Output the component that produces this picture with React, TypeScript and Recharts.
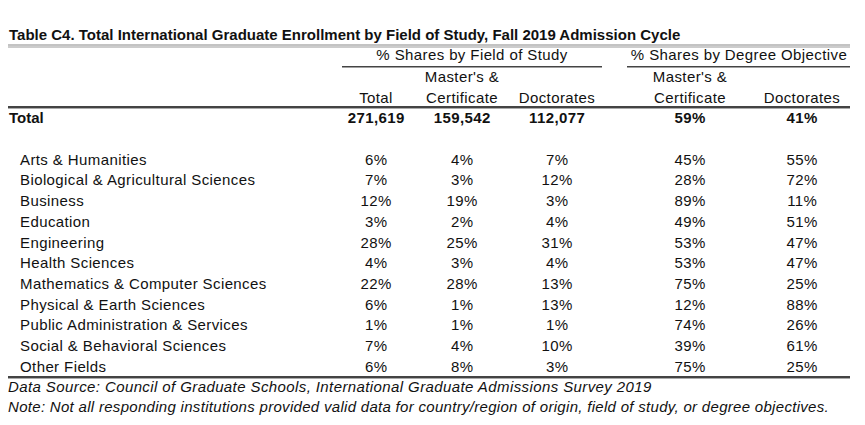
import React from "react";
import { ScatterChart, Scatter, XAxis, YAxis } from "recharts";

// rows of the table
const fields = [
  "Arts & Humanities",
  "Biological & Agricultural Sciences",
  "Business",
  "Education",
  "Engineering",
  "Health Sciences",
  "Mathematics & Computer Sciences",
  "Physical & Earth Sciences",
  "Public Administration & Services",
  "Social & Behavioral Sciences",
  "Other Fields",
];

// % shares by field of study
const shareTotal = [6, 7, 12, 3, 28, 4, 22, 6, 1, 7, 6];
const shareMasters = [4, 3, 19, 2, 25, 3, 28, 1, 1, 4, 8];
const shareDoctorates = [7, 12, 3, 4, 31, 4, 13, 13, 1, 10, 3];

// % shares by degree objective
const degreeMasters = [45, 28, 89, 49, 53, 53, 75, 12, 74, 39, 75];
const degreeDoctorates = [55, 72, 11, 51, 47, 47, 25, 88, 26, 61, 25];

// Total row
const totalEnrollment = [271619, 159542, 112077];
const totalDegreeShare = [59, 41];

const W = 865;
const H = 425;
const FONT = "'Liberation Sans', Arial, sans-serif";
const FS = 15;
const LS = 0.4;
const INK = "#111";
const RULE = "#444";

// layout: x of the label column and centre of each value column
const labelX = 20;
const colCenters = [376, 462, 557, 690, 802];

const TOTAL_ROW = "Total";
const BLANK_ROW = " ";
const rowOrder = [TOTAL_ROW, BLANK_ROW, ...fields];

const pct = (v: number) => `${v}%`;
const num = (v: number) => v.toLocaleString("en-US");

const columns: number[][] = [
  shareTotal,
  shareMasters,
  shareDoctorates,
  degreeMasters,
  degreeDoctorates,
];

const totalTexts = [
  ...totalEnrollment.map(num),
  ...totalDegreeShare.map(pct),
];

function columnData(ci: number) {
  return [
    { row: TOTAL_ROW, x: colCenters[ci], text: totalTexts[ci], bold: true },
    { row: BLANK_ROW, x: colCenters[ci], text: "", bold: false },
    ...fields.map((f, i) => ({
      row: f,
      x: colCenters[ci],
      text: pct(columns[ci][i]),
      bold: false,
    })),
  ];
}

const labelData = rowOrder.map((r) => ({
  row: r,
  x: labelX,
  text: r.trim(),
  bold: r === TOTAL_ROW,
}));

const CellText = (props: any) => {
  const { cx, cy, payload } = props;
  if (!payload || !payload.text) return <g />;
  return (
    <text
      x={cx + LS / 2}
      y={cy + 5}
      textAnchor="middle"
      fontFamily={FONT}
      fontSize={FS}
      letterSpacing={LS}
      fontWeight={payload.bold ? 700 : 400}
      fill={INK}
    >
      {payload.text}
    </text>
  );
};

const LabelText = (props: any) => {
  const { cx, cy, payload } = props;
  if (!payload || !payload.text) return <g />;
  return (
    <text
      x={payload.bold ? cx - 11 : cx}
      y={cy + 5}
      textAnchor="start"
      fontFamily={FONT}
      fontSize={FS}
      letterSpacing={payload.bold ? 0 : LS}
      fontWeight={payload.bold ? 700 : 400}
      fill={INK}
    >
      {payload.text}
    </text>
  );
};

function Header() {
  const t = {
    fontFamily: FONT,
    fontSize: FS,
    letterSpacing: LS,
    fill: INK,
  } as const;
  return (
    <svg
      width={W}
      height={H}
      style={{
        position: "absolute",
        left: 0,
        top: 0,
        zIndex: 2,
        pointerEvents: "none",
      }}
    >
      <text x={9} y={40} fontFamily={FONT} fontSize={15} fontWeight={700} fill={INK}>
        Table C4. Total International Graduate Enrollment by Field of Study, Fall 2019 Admission Cycle
      </text>
      <rect x={3} y={44.5} width={847} height={1} fill="#888" />
      <rect x={3} y={46.5} width={847} height={1} fill="#999" />

      <text x={472} y={60} textAnchor="middle" {...t}>
        % Shares by Field of Study
      </text>
      <text x={739} y={60} textAnchor="middle" {...t}>
        % Shares by Degree Objective
      </text>
      <rect x={342} y={66} width={260} height={1.5} fill={RULE} />
      <rect x={627} y={66} width={223} height={1.5} fill={RULE} />

      <text x={colCenters[1]} y={82} textAnchor="middle" {...t}>
        Master's &amp;
      </text>
      <text x={colCenters[3]} y={82} textAnchor="middle" {...t}>
        Master's &amp;
      </text>
      <text x={colCenters[0]} y={103} textAnchor="middle" {...t}>
        Total
      </text>
      <text x={colCenters[1]} y={103} textAnchor="middle" {...t}>
        Certificate
      </text>
      <text x={colCenters[2]} y={103} textAnchor="middle" {...t}>
        Doctorates
      </text>
      <text x={colCenters[3]} y={103} textAnchor="middle" {...t}>
        Certificate
      </text>
      <text x={colCenters[4]} y={103} textAnchor="middle" {...t}>
        Doctorates
      </text>
      <rect x={3} y={106} width={847} height={2} fill={RULE} />
      <rect x={3} y={108} width={847} height={1} fill="#aaa" />

      <rect x={3} y={376} width={847} height={2} fill={RULE} />
      <rect x={3} y={378} width={847} height={1} fill="#aaa" />
      <text x={8} y={392} {...t} fontStyle="italic">
        Data Source: Council of Graduate Schools, International Graduate Admissions Survey 2019
      </text>
      <text x={8} y={412} {...t} letterSpacing={0.3} fontStyle="italic">
        Note: Not all responding institutions provided valid data for country/region of origin, field of study, or degree objectives.
      </text>
    </svg>
  );
}

export default function App() {
  return (
    <div
      style={{
        position: "relative",
        width: W,
        height: H,
        margin: -8,
        background: "#fff",
        overflow: "hidden",
      }}
    >
      <ScatterChart
        width={W}
        height={H}
        margin={{ top: 108, right: 0, bottom: 48, left: 0 }}
      >
        <XAxis type="number" dataKey="x" domain={[0, W]} hide />
        <YAxis
          type="category"
          dataKey="row"
          ticks={rowOrder}
          reversed
          hide
          width={0}
        />
        <Scatter
          data={labelData}
          shape={<LabelText />}
          isAnimationActive={false}
        />
        {colCenters.map((_, ci) => (
          <Scatter
            key={ci}
            data={columnData(ci)}
            shape={<CellText />}
            isAnimationActive={false}
          />
        ))}
      </ScatterChart>
      <Header />
    </div>
  );
}
